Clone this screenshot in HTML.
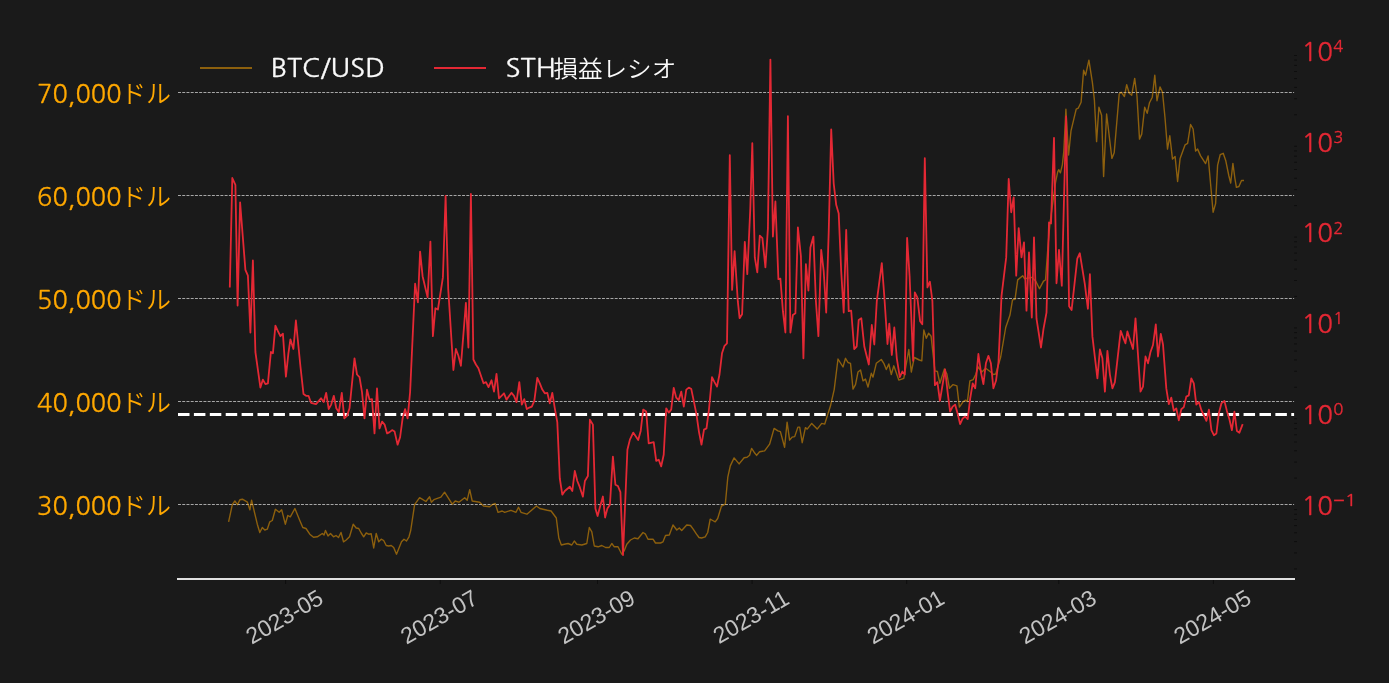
<!DOCTYPE html>
<html lang="ja"><head><meta charset="utf-8"><title>BTC/USD STH損益レシオ</title>
<style>
html,body{margin:0;padding:0;background:#1a1a1a;overflow:hidden}
svg{display:block;will-change:transform}
text{font-size:25px}
.n{font-family:"NanumGothic","Liberation Sans","Noto Sans CJK JP",sans-serif;stroke-width:0.3px}
.l.n{stroke:#ffa800}.g.n{stroke:#fafafa}.r.n{stroke:#e42834}
.j{font-family:"Liberation Sans","Noto Sans CJK JP",sans-serif;font-weight:350}
.l{fill:#ffa800}
.g{fill:#fafafa}
.r{fill:#e42834}
.x{font-family:"Liberation Sans",sans-serif;font-size:23px;fill:#c2c2c2}
</style></head><body>
<svg width="1389" height="683" viewBox="0 0 1389 683">
<rect width="1389" height="683" fill="#1a1a1a"/>
<line x1="178.0" x2="1294.1" y1="92.50" y2="92.50" stroke="#cccccc" stroke-width="0.8" stroke-dasharray="2.96 1.28"/>
<line x1="178.0" x2="1294.1" y1="195.50" y2="195.50" stroke="#cccccc" stroke-width="0.8" stroke-dasharray="2.96 1.28"/>
<line x1="178.0" x2="1294.1" y1="298.50" y2="298.50" stroke="#cccccc" stroke-width="0.8" stroke-dasharray="2.96 1.28"/>
<line x1="178.0" x2="1294.1" y1="401.50" y2="401.50" stroke="#cccccc" stroke-width="0.8" stroke-dasharray="2.96 1.28"/>
<line x1="178.0" x2="1294.1" y1="504.50" y2="504.50" stroke="#cccccc" stroke-width="0.8" stroke-dasharray="2.96 1.28"/>
<polyline fill="none" stroke="#ffa500" stroke-opacity="0.5" stroke-width="1.4" stroke-linejoin="round" points="228.6,521.8 232.3,504.7 234.9,501.0 237.4,504.7 239.9,499.7 242.4,499.2 247.4,502.2 249.9,509.8 251.6,500.2 257.3,524.2 259.8,532.5 262.3,527.5 264.8,530.0 267.3,529.2 269.8,521.8 272.3,520.5 275.4,509.3 279.2,512.3 281.7,509.8 285.3,524.2 287.8,515.5 290.3,516.8 294.9,508.5 299.8,520.5 302.8,527.5 306.0,528.5 309.8,534.2 313.5,537.2 317.3,536.8 322.3,533.5 324.0,535.0 325.5,530.5 328.0,536.0 330.5,533.5 333.5,536.8 336.0,535.5 338.5,537.5 341.0,532.5 343.5,541.8 346.2,540.0 349.5,536.8 353.2,524.2 356.2,528.0 358.7,528.5 361.2,533.0 363.7,536.8 366.2,533.0 368.7,534.2 371.2,533.8 373.7,548.0 376.2,533.5 378.7,541.8 381.2,539.2 383.7,540.5 386.2,545.5 388.7,546.0 391.2,545.5 393.7,547.5 396.5,554.2 399.0,548.0 401.5,541.8 404.0,539.2 406.5,541.0 409.0,536.8 410.7,530.5 414.6,504.7 419.6,497.7 422.1,499.2 425.9,501.5 429.6,496.7 431.4,502.2 433.9,499.7 440.9,497.2 444.6,492.2 452.2,504.2 455.2,501.0 458.9,502.2 464.7,497.7 467.2,500.2 469.7,489.7 472.2,501.0 479.7,502.2 483.5,506.0 489.7,506.7 492.2,504.7 495.2,503.5 498.0,512.3 502.2,511.0 504.7,512.3 511.0,510.3 516.0,512.3 518.5,507.2 521.0,512.3 526.9,514.2 536.5,506.0 539.8,508.5 547.3,510.3 551.1,511.0 556.3,518.0 558.8,538.0 561.3,545.0 564.3,544.2 568.1,543.5 571.8,545.0 574.3,541.0 576.8,544.2 581.8,545.0 586.8,543.5 589.3,527.5 591.8,531.8 594.3,546.0 598.1,546.8 601.8,545.5 605.6,547.5 609.3,547.5 611.8,543.5 614.3,546.8 618.0,546.8 621.8,554.2 624.3,550.5 626.8,544.2 630.5,540.0 634.3,538.0 638.0,538.8 643.0,532.5 645.5,534.2 648.0,539.2 653.0,539.2 655.5,543.0 660.5,543.0 663.0,541.8 665.5,535.5 669.3,535.0 673.0,525.0 676.8,530.0 679.3,528.0 681.7,530.5 686.7,525.0 690.5,525.5 693.2,529.2 696.5,534.2 699.0,537.5 701.5,538.0 705.2,536.8 707.7,532.5 710.2,519.2 712.7,520.5 715.2,521.8 717.7,518.5 721.5,506.0 725.3,504.2 727.8,477.2 730.3,465.9 734.1,457.9 739.1,463.9 744.1,457.7 747.1,457.2 749.6,455.2 751.6,448.4 754.1,452.2 756.6,455.4 759.6,451.7 764.6,450.9 769.6,444.2 774.1,428.4 777.9,430.9 780.4,431.6 784.6,447.2 787.1,422.1 789.6,440.1 792.1,437.1 794.7,436.6 797.9,427.1 799.7,427.1 802.2,442.7 805.4,427.6 807.2,429.1 811.7,423.4 814.2,425.9 817.2,429.1 821.7,423.4 824.7,424.1 830.5,405.8 834.2,389.6 838.0,359.0 843.0,367.0 845.5,358.3 848.0,362.5 850.5,363.3 853.0,389.1 855.5,384.6 858.0,372.0 860.5,370.0 863.0,380.8 865.5,379.1 868.0,387.1 871.3,373.3 873.0,377.1 876.3,363.3 881.3,359.5 883.8,363.3 886.3,369.5 888.8,364.0 891.3,374.5 893.8,365.8 898.8,380.1 903.8,378.3 906.8,360.8 908.8,349.5 911.3,372.0 914.3,357.5 919.3,360.0 921.8,360.8 923.8,330.0 926.3,338.3 928.6,333.2 931.1,336.2 934.9,370.8 937.4,371.5 939.9,383.3 944.4,369.0 946.9,374.0 949.4,388.3 953.1,384.6 956.9,385.8 959.4,407.1 963.2,401.6 965.7,400.1 967.4,401.6 969.9,380.8 973.2,379.6 975.7,374.5 978.2,367.0 981.9,372.0 985.7,368.3 990.7,372.0 993.2,374.5 995.7,374.0 998.2,365.8 1000.7,357.0 1005.7,327.5 1010.0,315.0 1012.5,299.9 1015.0,299.4 1017.7,279.9 1022.7,275.7 1024.5,278.7 1032.0,277.4 1035.8,281.2 1039.5,288.7 1043.5,281.2 1045.5,280.0 1048.0,246.2 1049.8,224.9 1055.6,182.0 1057.7,171.8 1058.7,169.7 1060.4,172.8 1062.4,164.6 1063.8,151.3 1065.9,109.2 1068.6,155.0 1071.0,130.8 1076.2,109.2 1078.2,108.2 1081.1,102.2 1083.6,70.2 1085.6,75.2 1088.9,60.1 1092.4,82.7 1094.4,100.2 1096.6,141.6 1098.9,107.2 1101.6,115.3 1103.6,176.5 1106.6,114.0 1111.9,158.4 1114.2,152.8 1119.2,94.0 1121.2,92.2 1124.4,96.5 1126.7,84.7 1129.2,93.2 1131.7,95.2 1134.7,78.4 1137.0,96.5 1139.5,139.1 1141.7,134.1 1144.7,107.2 1147.2,113.3 1149.5,102.7 1152.3,97.2 1154.8,75.2 1157.0,100.7 1160.0,86.9 1162.5,92.2 1165.0,117.8 1167.5,149.1 1169.8,135.8 1172.5,159.1 1175.1,156.6 1177.6,181.5 1180.1,158.4 1185.1,144.8 1187.6,143.3 1190.6,124.5 1193.1,129.0 1195.6,151.1 1197.6,149.1 1200.6,155.9 1205.6,163.6 1208.1,155.9 1213.1,212.3 1215.6,203.6 1217.6,165.4 1220.2,154.6 1223.2,153.3 1225.7,160.4 1228.9,176.0 1230.7,183.0 1232.9,163.4 1234.9,178.5 1236.4,187.3 1238.9,186.5 1241.5,180.5 1244.0,180.5"/>
<line x1="178.0" x2="1294.1" y1="414.5" y2="414.5" stroke="#ffffff" stroke-width="3" stroke-dasharray="11.5 4.404"/>
<polyline fill="none" stroke="#e42834" stroke-width="1.8" stroke-linejoin="round" points="229.8,287.4 232.3,178.0 235.4,184.8 237.6,305.5 240.1,202.3 245.4,269.9 247.9,275.7 250.4,332.5 252.9,260.4 255.4,352.0 260.4,387.6 262.9,379.6 265.4,384.1 267.9,383.3 270.9,352.0 272.9,353.3 275.4,325.7 277.9,331.2 280.4,336.2 282.9,333.7 285.9,376.6 288.4,353.3 290.4,339.3 293.4,349.0 295.9,320.5 300.5,367.0 303.5,394.1 306.0,395.8 308.5,395.8 311.0,402.8 316.0,404.1 321.0,398.3 323.7,402.1 326.2,392.8 328.7,409.1 331.2,404.6 333.8,395.8 336.3,408.3 338.8,412.1 341.8,392.8 344.3,418.4 347.0,415.9 349.5,408.3 354.5,358.3 357.0,374.5 359.5,377.1 362.0,392.1 364.5,418.4 367.0,389.6 369.5,399.6 372.0,399.1 374.5,433.4 377.0,388.3 379.5,428.4 382.1,421.6 384.6,424.6 387.1,433.4 389.6,432.1 392.1,430.1 394.6,431.6 397.6,444.7 400.1,437.1 402.6,418.4 405.1,409.1 407.6,418.4 410.1,392.1 415.1,283.7 417.9,302.4 420.1,251.6 422.6,276.2 427.6,297.4 430.4,241.6 432.9,336.2 435.4,308.2 437.9,309.5 442.9,277.4 445.6,196.0 448.2,288.7 453.4,370.0 455.9,349.0 458.4,355.8 460.9,365.8 465.9,302.9 468.4,347.5 470.9,194.0 473.4,359.5 475.9,364.5 478.4,368.3 483.5,383.3 486.0,382.1 488.5,387.1 491.5,380.3 494.0,391.6 496.5,373.8 499.0,398.3 504.0,393.3 506.5,399.6 511.5,392.8 514.0,395.8 516.5,402.1 519.3,382.1 521.8,404.6 524.3,399.1 526.8,409.1 529.3,407.6 531.8,406.6 534.3,400.8 537.3,377.8 539.8,383.3 542.3,389.6 544.8,393.3 547.3,392.8 549.8,403.3 552.3,392.8 554.8,408.3 557.3,422.1 559.8,478.5 562.3,494.7 564.8,491.0 569.8,486.7 572.3,491.0 574.8,470.9 577.3,481.0 579.8,487.2 582.9,496.7 584.9,481.0 587.9,476.0 589.9,419.6 592.9,424.6 595.4,508.5 597.6,516.0 599.9,507.2 602.9,496.5 605.1,517.5 607.4,508.5 609.9,504.7 612.9,456.7 615.4,484.7 617.9,486.0 620.4,492.2 623.0,555.0 627.4,449.7 629.9,439.6 633.2,432.6 638.2,440.1 640.7,430.9 643.2,409.6 646.2,411.6 648.7,443.4 653.7,442.2 656.2,460.9 658.7,459.7 661.2,466.4 663.7,454.7 666.2,408.3 668.7,412.6 671.2,409.6 673.7,387.8 676.2,397.6 678.7,400.1 681.3,391.6 683.8,406.6 686.3,389.6 688.8,387.6 691.3,389.1 694.0,402.1 696.5,414.6 699.0,432.1 701.5,444.7 704.0,429.6 706.5,428.4 709.0,409.1 712.0,377.1 714.5,382.1 717.0,386.6 719.5,374.5 722.0,353.3 724.5,345.8 727.0,343.3 729.8,155.2 732.1,289.9 734.6,251.1 737.8,301.2 739.6,318.2 742.1,314.2 744.8,241.9 747.3,274.2 750.3,208.6 752.3,143.2 754.8,257.4 757.3,272.4 759.8,235.6 762.4,238.1 765.4,267.4 767.9,228.6 770.4,59.6 772.9,236.6 775.4,201.5 778.4,279.2 780.4,278.7 782.9,311.2 785.4,332.5 787.9,116.2 790.4,332.5 792.9,315.0 795.4,313.2 797.9,227.3 800.9,256.1 803.4,358.3 805.9,264.1 808.4,290.7 810.4,247.4 813.4,236.6 815.9,301.2 818.4,336.2 821.2,249.9 823.7,271.2 826.2,312.5 828.7,232.3 831.2,129.4 833.7,183.5 836.2,204.8 838.7,213.6 841.2,271.2 843.7,312.5 846.2,229.8 848.7,311.2 851.2,310.7 854.2,349.0 856.7,346.5 858.7,320.0 861.3,318.2 864.3,346.5 868.8,364.5 871.8,325.0 874.3,344.5 876.8,301.2 881.8,263.1 884.3,296.2 887.5,344.0 889.3,323.7 891.8,355.0 894.3,327.5 896.8,358.3 899.8,377.1 902.3,371.5 904.8,374.5 907.1,237.9 909.6,276.2 913.1,360.8 914.8,292.4 917.3,297.4 920.1,321.2 922.3,324.2 924.8,158.2 927.4,287.4 929.9,281.7 932.4,301.2 934.9,385.1 937.4,382.1 939.9,400.8 945.1,369.5 947.6,392.1 950.1,411.6 952.6,406.6 955.1,404.6 957.6,413.4 960.1,424.1 962.7,418.4 965.2,416.6 967.7,419.1 970.2,398.3 972.7,383.3 975.2,388.3 978.4,354.0 980.9,372.0 983.4,384.1 985.9,363.3 988.4,355.8 990.9,363.3 993.4,388.3 996.0,380.8 998.5,362.0 1001.5,296.2 1006.2,257.4 1008.7,179.0 1011.2,212.3 1013.7,197.3 1016.2,275.7 1018.7,228.1 1021.5,257.4 1024.0,242.4 1026.5,310.7 1029.0,252.4 1031.8,317.5 1034.0,237.3 1036.5,318.7 1041.0,347.5 1043.5,328.9 1046.5,312.6 1049.0,222.4 1051.0,223.6 1054.0,137.8 1056.5,283.3 1059.0,249.9 1061.8,285.8 1066.1,116.5 1069.1,306.3 1071.6,310.1 1077.3,258.7 1079.8,253.2 1084.8,283.8 1087.9,308.8 1089.9,274.2 1092.4,336.4 1097.4,378.3 1099.9,349.5 1102.4,358.3 1104.9,391.6 1107.4,350.8 1109.9,374.6 1112.4,388.4 1114.9,382.1 1120.7,330.9 1123.7,338.9 1125.4,343.3 1127.4,331.4 1133.0,349.0 1135.5,318.3 1140.5,391.6 1143.0,386.6 1145.5,356.5 1148.0,363.3 1150.5,352.0 1153.0,345.0 1155.8,324.3 1158.0,356.5 1160.8,333.9 1163.0,344.5 1166.3,388.4 1168.8,404.1 1171.3,397.6 1173.8,410.9 1176.3,408.4 1178.8,420.4 1181.3,409.2 1183.8,407.1 1186.3,396.6 1188.8,395.4 1191.3,378.3 1193.8,383.3 1196.3,404.6 1198.9,402.1 1201.4,410.2 1206.4,420.9 1208.9,409.7 1211.4,430.2 1213.9,435.2 1216.4,433.5 1218.9,412.9 1221.4,403.4 1224.4,400.9 1226.9,410.9 1229.4,419.2 1231.9,430.2 1234.4,411.7 1236.9,431.0 1239.4,432.7 1242.7,424.2"/>
<line x1="177.0" x2="1295.0" y1="579" y2="579" stroke="#e0e0e0" stroke-width="2"/>
<line x1="285.6" x2="285.6" y1="580" y2="584" stroke="#0e0e0e" stroke-width="1"/>
<text class="x" text-anchor="middle" transform="translate(284.3,616.5) rotate(-30)" y="8.2">2023-05</text>
<line x1="440.3" x2="440.3" y1="580" y2="584" stroke="#0e0e0e" stroke-width="1"/>
<text class="x" text-anchor="middle" transform="translate(439.0,616.5) rotate(-30)" y="8.2">2023-07</text>
<line x1="597.5" x2="597.5" y1="580" y2="584" stroke="#0e0e0e" stroke-width="1"/>
<text class="x" text-anchor="middle" transform="translate(596.2,616.5) rotate(-30)" y="8.2">2023-09</text>
<line x1="752.1" x2="752.1" y1="580" y2="584" stroke="#0e0e0e" stroke-width="1"/>
<text class="x" text-anchor="middle" transform="translate(750.8,616.5) rotate(-30)" y="8.2">2023-11</text>
<line x1="906.7" x2="906.7" y1="580" y2="584" stroke="#0e0e0e" stroke-width="1"/>
<text class="x" text-anchor="middle" transform="translate(905.4,616.5) rotate(-30)" y="8.2">2024-01</text>
<line x1="1058.8" x2="1058.8" y1="580" y2="584" stroke="#0e0e0e" stroke-width="1"/>
<text class="x" text-anchor="middle" transform="translate(1057.5,616.5) rotate(-30)" y="8.2">2024-03</text>
<line x1="1213.4" x2="1213.4" y1="580" y2="584" stroke="#0e0e0e" stroke-width="1"/>
<text class="x" text-anchor="middle" transform="translate(1212.1,616.5) rotate(-30)" y="8.2">2024-05</text>
<line x1="1294.1" x2="1297" y1="568.9" y2="568.9" stroke="#0e0e0e" stroke-width="1"/>
<line x1="1294.1" x2="1297" y1="552.9" y2="552.9" stroke="#0e0e0e" stroke-width="1"/>
<line x1="1294.1" x2="1297" y1="541.6" y2="541.6" stroke="#0e0e0e" stroke-width="1"/>
<line x1="1294.1" x2="1297" y1="532.8" y2="532.8" stroke="#0e0e0e" stroke-width="1"/>
<line x1="1294.1" x2="1297" y1="525.6" y2="525.6" stroke="#0e0e0e" stroke-width="1"/>
<line x1="1294.1" x2="1297" y1="519.5" y2="519.5" stroke="#0e0e0e" stroke-width="1"/>
<line x1="1294.1" x2="1297" y1="514.3" y2="514.3" stroke="#0e0e0e" stroke-width="1"/>
<line x1="1294.1" x2="1297" y1="509.6" y2="509.6" stroke="#0e0e0e" stroke-width="1"/>
<line x1="1294.1" x2="1297" y1="478.1" y2="478.1" stroke="#0e0e0e" stroke-width="1"/>
<line x1="1294.1" x2="1297" y1="462.1" y2="462.1" stroke="#0e0e0e" stroke-width="1"/>
<line x1="1294.1" x2="1297" y1="450.8" y2="450.8" stroke="#0e0e0e" stroke-width="1"/>
<line x1="1294.1" x2="1297" y1="442.0" y2="442.0" stroke="#0e0e0e" stroke-width="1"/>
<line x1="1294.1" x2="1297" y1="434.8" y2="434.8" stroke="#0e0e0e" stroke-width="1"/>
<line x1="1294.1" x2="1297" y1="428.7" y2="428.7" stroke="#0e0e0e" stroke-width="1"/>
<line x1="1294.1" x2="1297" y1="423.4" y2="423.4" stroke="#0e0e0e" stroke-width="1"/>
<line x1="1294.1" x2="1297" y1="418.8" y2="418.8" stroke="#0e0e0e" stroke-width="1"/>
<line x1="1294.1" x2="1297" y1="387.3" y2="387.3" stroke="#0e0e0e" stroke-width="1"/>
<line x1="1294.1" x2="1297" y1="371.3" y2="371.3" stroke="#0e0e0e" stroke-width="1"/>
<line x1="1294.1" x2="1297" y1="359.9" y2="359.9" stroke="#0e0e0e" stroke-width="1"/>
<line x1="1294.1" x2="1297" y1="351.1" y2="351.1" stroke="#0e0e0e" stroke-width="1"/>
<line x1="1294.1" x2="1297" y1="343.9" y2="343.9" stroke="#0e0e0e" stroke-width="1"/>
<line x1="1294.1" x2="1297" y1="337.9" y2="337.9" stroke="#0e0e0e" stroke-width="1"/>
<line x1="1294.1" x2="1297" y1="332.6" y2="332.6" stroke="#0e0e0e" stroke-width="1"/>
<line x1="1294.1" x2="1297" y1="327.9" y2="327.9" stroke="#0e0e0e" stroke-width="1"/>
<line x1="1294.1" x2="1297" y1="296.4" y2="296.4" stroke="#0e0e0e" stroke-width="1"/>
<line x1="1294.1" x2="1297" y1="280.5" y2="280.5" stroke="#0e0e0e" stroke-width="1"/>
<line x1="1294.1" x2="1297" y1="269.1" y2="269.1" stroke="#0e0e0e" stroke-width="1"/>
<line x1="1294.1" x2="1297" y1="260.3" y2="260.3" stroke="#0e0e0e" stroke-width="1"/>
<line x1="1294.1" x2="1297" y1="253.1" y2="253.1" stroke="#0e0e0e" stroke-width="1"/>
<line x1="1294.1" x2="1297" y1="247.0" y2="247.0" stroke="#0e0e0e" stroke-width="1"/>
<line x1="1294.1" x2="1297" y1="241.8" y2="241.8" stroke="#0e0e0e" stroke-width="1"/>
<line x1="1294.1" x2="1297" y1="237.1" y2="237.1" stroke="#0e0e0e" stroke-width="1"/>
<line x1="1294.1" x2="1297" y1="205.6" y2="205.6" stroke="#0e0e0e" stroke-width="1"/>
<line x1="1294.1" x2="1297" y1="189.6" y2="189.6" stroke="#0e0e0e" stroke-width="1"/>
<line x1="1294.1" x2="1297" y1="178.3" y2="178.3" stroke="#0e0e0e" stroke-width="1"/>
<line x1="1294.1" x2="1297" y1="169.5" y2="169.5" stroke="#0e0e0e" stroke-width="1"/>
<line x1="1294.1" x2="1297" y1="162.3" y2="162.3" stroke="#0e0e0e" stroke-width="1"/>
<line x1="1294.1" x2="1297" y1="156.2" y2="156.2" stroke="#0e0e0e" stroke-width="1"/>
<line x1="1294.1" x2="1297" y1="150.9" y2="150.9" stroke="#0e0e0e" stroke-width="1"/>
<line x1="1294.1" x2="1297" y1="146.3" y2="146.3" stroke="#0e0e0e" stroke-width="1"/>
<line x1="1294.1" x2="1297" y1="114.8" y2="114.8" stroke="#0e0e0e" stroke-width="1"/>
<line x1="1294.1" x2="1297" y1="98.8" y2="98.8" stroke="#0e0e0e" stroke-width="1"/>
<line x1="1294.1" x2="1297" y1="87.4" y2="87.4" stroke="#0e0e0e" stroke-width="1"/>
<line x1="1294.1" x2="1297" y1="78.6" y2="78.6" stroke="#0e0e0e" stroke-width="1"/>
<line x1="1294.1" x2="1297" y1="71.5" y2="71.5" stroke="#0e0e0e" stroke-width="1"/>
<line x1="1294.1" x2="1297" y1="65.4" y2="65.4" stroke="#0e0e0e" stroke-width="1"/>
<line x1="1294.1" x2="1297" y1="60.1" y2="60.1" stroke="#0e0e0e" stroke-width="1"/>
<line x1="1294.1" x2="1297" y1="55.5" y2="55.5" stroke="#0e0e0e" stroke-width="1"/>
<text class="n l" transform="translate(37.1,103.2) scale(1.0136,0.98)">70,000</text><text class="j l" x="121.1" y="103.4">ドル</text>
<text class="n l" transform="translate(37.1,206.2) scale(1.0136,0.98)">60,000</text><text class="j l" x="121.1" y="206.4">ドル</text>
<text class="n l" transform="translate(37.1,309.2) scale(1.0136,0.98)">50,000</text><text class="j l" x="121.1" y="309.4">ドル</text>
<text class="n l" transform="translate(37.1,412.2) scale(1.0136,0.98)">40,000</text><text class="j l" x="121.1" y="412.4">ドル</text>
<text class="n l" transform="translate(37.1,515.2) scale(1.0136,0.98)">30,000</text><text class="j l" x="121.1" y="515.4">ドル</text>
<text class="n r" transform="translate(1301.4,61.1) scale(1.042,0.98)">10</text><text class="n r" transform="translate(1333.2,52.2) scale(1,1)" style="font-size:16.8px">4</text>
<text class="n r" transform="translate(1301.4,151.8) scale(1.042,0.98)">10</text><text class="n r" transform="translate(1333.2,142.9) scale(1,1)" style="font-size:16.8px">3</text>
<text class="n r" transform="translate(1301.4,242.4) scale(1.042,0.98)">10</text><text class="n r" transform="translate(1333.2,233.5) scale(1,1)" style="font-size:16.8px">2</text>
<text class="n r" transform="translate(1301.4,333.1) scale(1.042,0.98)">10</text><text class="n r" transform="translate(1333.2,324.2) scale(1,1)" style="font-size:16.8px">1</text>
<text class="n r" transform="translate(1301.4,423.8) scale(1.042,0.98)">10</text><text class="n r" transform="translate(1333.2,414.9) scale(1,1)" style="font-size:16.8px">0</text>
<text class="n r" transform="translate(1301.4,514.5) scale(1.042,0.98)">10</text><text class="n r" transform="translate(1333.2,505.6) scale(1.17,1)" style="font-size:16.8px">−1</text>
<line x1="200" x2="252" y1="68" y2="68" stroke="#ffa500" stroke-opacity="0.5" stroke-width="2"/>
<text class="n g" transform="translate(270.8,77.2) scale(1.089,0.98)">BTC/USD</text>
<line x1="434" x2="486" y1="68" y2="68" stroke="#e42834" stroke-width="2"/>
<text class="n g" transform="translate(505.4,77.2) scale(1.11,0.98)">STH</text><text class="j g" transform="translate(553.4,77.2) scale(0.983,0.93)">損益レシオ</text>
</svg></body></html>
